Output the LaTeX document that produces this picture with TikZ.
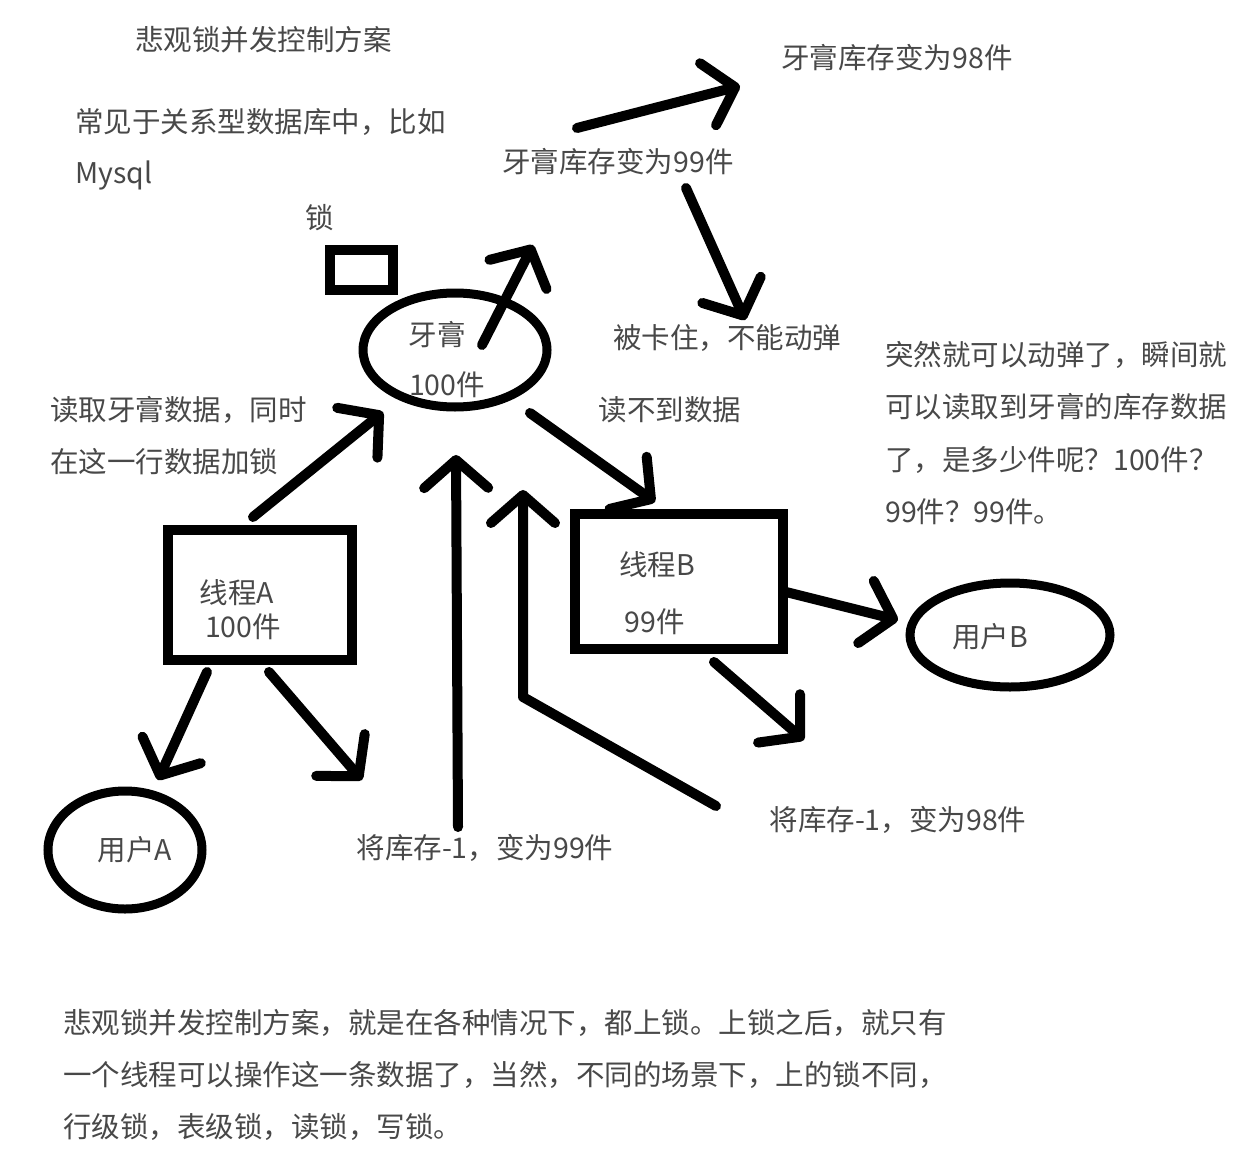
\documentclass[tikz,border=0pt]{standalone}
\usepackage{fontspec}
\setmainfont{Noto Sans CJK SC}
\usetikzlibrary{arrows.meta,shapes.geometric}
\definecolor{inkgray}{RGB}{72,72,72}
\tikzset{
  lbl/.style={text=inkgray,inner sep=0pt,font=\fontsize{28.5}{34}\selectfont},
  lblw/.style={lbl,anchor=west},
  stroke/.style={line width=10pt,line cap=round,line join=round},
  arr/.style={stroke,-{Straight Barb[length=28pt,width=64pt,round]}},
  boxshape/.style={draw,line width=10pt,inner sep=0pt},
  ovalshape/.style={draw,ellipse,line width=9pt,inner sep=0pt}
}
\begin{document}
\begin{tikzpicture}[x=1pt,y=-1pt]
\useasboundingbox (0,0) rectangle (1242,1156);
\fill[white] (0,0) rectangle (1242,1156);

% shapes
\node[boxshape,minimum width=63pt,minimum height=40pt] (lock) at (361,270) {};
\node[ovalshape,minimum width=184pt,minimum height=114pt] (yagao) at (455,350) {};
\node[boxshape,minimum width=184pt,minimum height=130pt] (threadA) at (260,595) {};
\node[boxshape,minimum width=208pt,minimum height=135pt] (threadB) at (679,581) {};
\node[ovalshape,minimum width=154pt,minimum height=118pt] (userA) at (125,850) {};
\node[ovalshape,minimum width=200pt,minimum height=104pt] (userB) at (1010,635) {};

% texts
\node[lblw] (title) at (135,40) {悲观锁并发控制方案};
\node[lblw] (intro1) at (75,122) {常见于关系型数据库中，比如};
\node[lblw] (intro2) at (75,175) {Mysql};
\node[lbl] (locklbl) at (320,218) {锁};
\node[lbl] (yg1) at (437,335) {牙膏};
\node[lbl] (yg2) at (447,385) {100件};
\node[lbl] (s99) at (618,162) {牙膏库存变为99件};
\node[lbl] (s98) at (897,58) {牙膏库存变为98件};
\node[lbl] (stuck) at (727,338) {被卡住，不能动弹};
\node[lbl] (noread) at (670,410) {读不到数据};
\node[lblw] (r1) at (885,355) {突然就可以动弹了，瞬间就};
\node[lblw] (r2) at (885,407) {可以读取到牙膏的库存数据};
\node[lblw] (r3) at (885,460) {了，是多少件呢？100件？};
\node[lblw] (r4) at (885,512) {99件？99件。};
\node[lblw] (l1) at (50,410) {读取牙膏数据，同时};
\node[lblw] (l2) at (50,462) {在这一行数据加锁};
\node[lbl] (ta1) at (237,593) {线程A};
\node[lbl] (ta2) at (243,627) {100件};
\node[lbl] (tb1) at (657,565) {线程B};
\node[lbl] (tb2) at (655,622) {99件};
\node[lbl] (ua) at (135,850) {用户A};
\node[lbl] (ub) at (990,637) {用户B};
\node[lbl] (dec99) at (485,848) {将库存-1，变为99件};
\node[lbl] (dec98) at (898,820) {将库存-1，变为98件};
\node[lblw] (b1) at (63,1023) {悲观锁并发控制方案，就是在各种情况下，都上锁。上锁之后，就只有};
\node[lblw] (b2) at (63,1075) {一个线程可以操作这一条数据了，当然，不同的场景下，上的锁不同，};
\node[lblw] (b3) at (63,1127) {行级锁，表级锁，读锁，写锁。};

% connector end points
\coordinate (aStart) at (253,517);   \coordinate (aTip) at (383,412);
\coordinate (ygStart) at (482,345);  \coordinate (ygTip) at (533,245);
\coordinate (upStart) at (577,128);  \coordinate (upTip) at (740,86);
\coordinate (dnStart) at (686,188);  \coordinate (dnTip) at (745,320);
\coordinate (bStart) at (530,413);   \coordinate (bTip) at (655,502);
\coordinate (uaStart) at (207,672);  \coordinate (uaTip) at (158,780);
\coordinate (wrStart) at (269,672);  \coordinate (wrTip) at (362,780);
\coordinate (backAStart) at (458,827); \coordinate (backATip) at (456,455);
\coordinate (backBStart) at (716,806); \coordinate (backBBend) at (523,697);
\coordinate (backBTip) at (523,490);
\coordinate (ubStart) at (786,592);  \coordinate (ubTip) at (898,620);
\coordinate (wbStart) at (714,662);  \coordinate (wbTip) at (804,740);

% connectors
\draw[arr] (aStart) -- (aTip);
\draw[arr] (ygStart) -- (ygTip);
\draw[arr] (upStart) -- (upTip);
\draw[arr] (dnStart) -- (dnTip);
\draw[arr] (bStart) -- (bTip);
\draw[arr] (uaStart) -- (uaTip);
\draw[arr] (wrStart) -- (wrTip);
\draw[arr] (backAStart) -- (backATip);
\draw[arr] (backBStart) -- (backBBend) -- (backBTip);
\draw[arr] (ubStart) -- (ubTip);
\draw[arr] (wbStart) -- (wbTip);
\end{tikzpicture}
\end{document}
